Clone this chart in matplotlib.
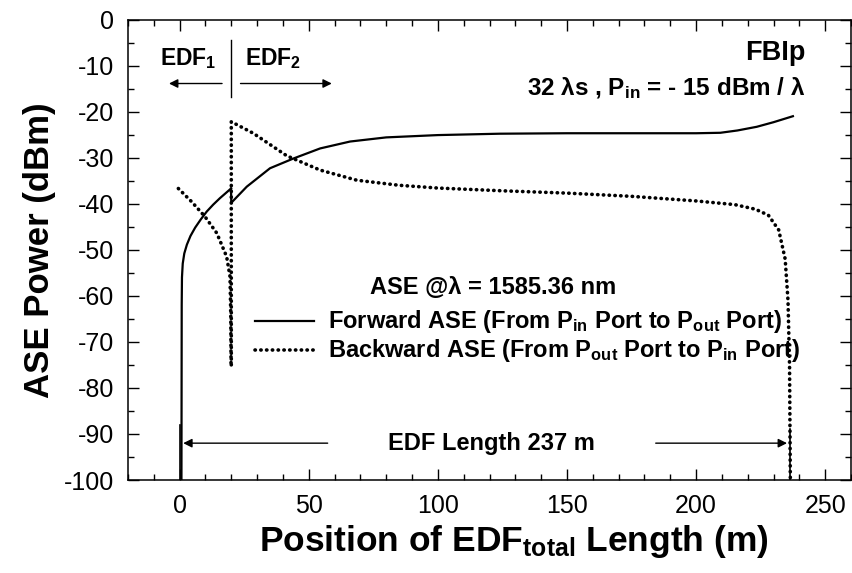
import matplotlib
matplotlib.use("Agg")
import matplotlib.pyplot as plt
from matplotlib.ticker import MultipleLocator

plt.rcParams["font.family"] = ["Liberation Sans", "DejaVu Sans"]
plt.rcParams["mathtext.fontset"] = "custom"
plt.rcParams["mathtext.rm"] = "Liberation Sans:bold"
plt.rcParams["mathtext.default"] = "regular"
plt.rcParams["axes.unicode_minus"] = False

# forward ASE, EDF1 (0-20 m) and EDF2 (20-237 m)
fwd1_x = [0.7, 0.8, 0.9, 1.2, 1.8, 2.8, 4.2, 6.0, 8.2, 10.5, 13.0, 15.6, 19.9]
fwd1_y = [-100, -62, -56, -53, -50.8, -48.9, -47.0, -45.2, -43.4, -41.7, -40.2, -38.8, -36.7]
fwd2_x = [19.9, 20.0, 26, 35, 44, 54.4, 66, 80, 100, 124, 150, 180, 200, 209.4, 216, 223.5, 230, 237.5]
fwd2_y = [-36.7, -39.8, -36.3, -32.3, -30.2, -28.0, -26.5, -25.6, -25.1, -24.8, -24.7, -24.7, -24.7, -24.6, -24.1, -23.3, -22.3, -21.0]

# backward ASE
bwd1_x = [-0.5, 4.7, 9.8, 14.4, 18.2, 19.5, 19.8, 19.9]
bwd1_y = [-36.7, -39.6, -42.8, -46.4, -51.5, -55.8, -64, -75]
bwd2_x = [20.0, 20.0, 28.5, 41.5, 54.4, 68.6, 85, 100, 125, 150, 175, 200, 215, 223, 228, 232, 234.5, 235.6, 236.2, 236.5]
bwd2_y = [-75, -22.2, -24.7, -29.6, -32.7, -34.9, -36.0, -36.6, -37.2, -37.7, -38.4, -39.4, -40.2, -41.2, -42.5, -45.7, -52.0, -61.0, -75, -100]

XLIM = (-20, 260)
YLIM = (-100, 0)


def main():
    fig = plt.figure(figsize=(8.52, 5.73), dpi=100)
    ax = fig.add_axes([128 / 852, 1 - 480 / 573, 723 / 852, 460.5 / 573])

    dots = (0, (0.1, 1.5))
    ax.plot(fwd1_x, fwd1_y, color="black", lw=1.6)
    ax.plot(fwd2_x, fwd2_y, color="black", lw=1.6)
    ax.plot(bwd1_x, bwd1_y, color="black", lw=2.6, linestyle=dots, dash_capstyle="round")
    ax.plot(bwd2_x, bwd2_y, color="black", lw=2.6, linestyle=dots, dash_capstyle="round")

    # end markers of the fibre
    ax.plot([0.15, 0.15], [-88, -100], color="black", lw=1.2)
    ax.plot([236.5, 236.5], [-89, -100], color="black", lw=1.2)

    ax.set_xlim(*XLIM)
    ax.set_ylim(*YLIM)
    ax.xaxis.set_major_locator(MultipleLocator(50))
    ax.xaxis.set_minor_locator(MultipleLocator(10))
    ax.yaxis.set_major_locator(MultipleLocator(10))
    ax.yaxis.set_minor_locator(MultipleLocator(5))
    ax.tick_params(which="both", direction="in", top=True, right=True, width=1)
    ax.tick_params(which="major", length=8, labelsize=18, pad=10)
    ax.tick_params(which="minor", length=4)
    for s in ax.spines.values():
        s.set_linewidth(1.1)

    ax.set_xlabel("Position of EDF$_{total}$ Length (m)", fontsize=25.5,
                  fontweight="bold")
    ax.xaxis.set_label_coords(0.534, -0.094)
    ax.set_ylabel("ASE Power (dBm)", fontsize=25, fontweight="bold", labelpad=6)

    # EDF1 / EDF2 marker
    ax.plot([20, 20], [-4.5, -16.8], color="black", lw=1)
    ax.text(3.5, -8.5, "EDF$_1$", fontsize=16.5, fontweight="bold", ha="center", va="center")
    ax.text(36.3, -8.5, "EDF$_2$", fontsize=16.5, fontweight="bold", ha="center", va="center")
    arw = dict(arrowstyle="-|>", lw=1, color="black", mutation_scale=13)
    ax.annotate("", xy=(-5.2, -13.9), xytext=(17.5, -13.9), arrowprops=arw)
    ax.annotate("", xy=(60, -13.9), xytext=(22.5, -13.9), arrowprops=arw)

    ax.text(242.4, -7.3, "FBIp", fontsize=19.5, fontweight="bold", ha="right", va="center")
    ax.text(242.4, -14.9, "32 λs , P$_{in}$ = - 15 dBm / λ", fontsize=17.5,
            fontweight="bold", ha="right", va="center")

    ax.text(121.4, -58.1, "ASE @λ = 1585.36 nm", fontsize=17, fontweight="bold",
            ha="center", va="center")
    ax.plot([29, 52], [-65.5, -65.5], color="black", lw=1.6)
    ax.plot([29, 52], [-71.8, -71.8], color="black", lw=2.6, linestyle=dots,
            dash_capstyle="round")
    ax.text(57.5, -65.5, "Forward ASE (From P$_{in}$ Port to P$_{out}$ Port)",
            fontsize=17, fontweight="bold", ha="left", va="center")
    ax.text(57.5, -71.8, "Backward ASE (From P$_{out}$ Port to P$_{in}$ Port)",
            fontsize=17, fontweight="bold", ha="left", va="center")

    ax.text(120.6, -92.0, "EDF Length 237 m", fontsize=17, fontweight="bold",
            ha="center", va="center")
    ax.annotate("", xy=(0.3, -92.0), xytext=(58.4, -92.0), arrowprops=arw)
    ax.annotate("", xy=(236.3, -92.0), xytext=(183.3, -92.0), arrowprops=arw)

    fig.savefig("out.png", dpi=100)
    plt.close(fig)


if __name__ == "__main__":
    main()
